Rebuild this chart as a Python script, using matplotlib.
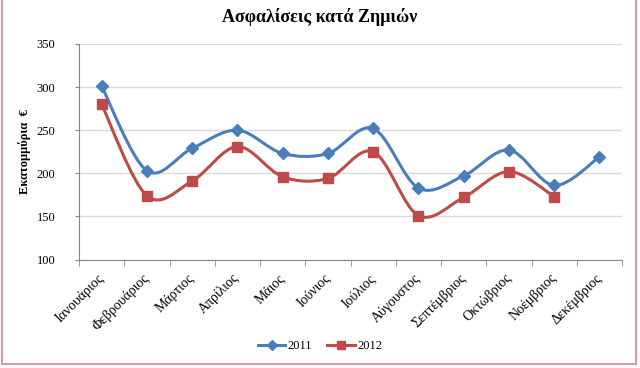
import numpy as np
import matplotlib
matplotlib.use('Agg')
import matplotlib.pyplot as plt
import matplotlib.transforms as mtransforms
from matplotlib.path import Path
from matplotlib.patches import PathPatch
from matplotlib.lines import Line2D

plt.rcParams['font.family'] = ['Liberation Serif', 'DejaVu Serif']

months = ['Ιανουάριος', 'Φεβρουάριος', 'Μάρτιος', 'Απρίλιος', 'Μάιος', 'Ιούνιος',
          'Ιούλιος', 'Αύγουστος', 'Σεπτέμβριος', 'Οκτώβριος', 'Νοέμβριος', 'Δεκέμβριος']
vals_2011 = [301, 203, 229, 250, 223, 223, 252, 183, 197, 227, 186, 219]
vals_2012 = [280, 174, 191, 231, 196, 194, 225, 151, 172, 202, 173]

blue = '#4A7EBB'
red = '#BE4B48'


def smooth_path(y):
    # Excel-style smoothed line: cubic Bezier segments (Catmull-Rom tangents)
    pts = np.column_stack([np.arange(len(y)), np.asarray(y, dtype=float)])
    verts = [pts[0]]
    codes = [Path.MOVETO]
    n = len(pts)
    for i in range(n - 1):
        p0 = pts[max(i - 1, 0)]
        p1 = pts[i]
        p2 = pts[i + 1]
        p3 = pts[min(i + 2, n - 1)]
        c1 = p1 + (p2 - p0) / 6.0
        c2 = p2 - (p3 - p1) / 6.0
        verts += [c1, c2, p2]
        codes += [Path.CURVE4] * 3
    return Path(verts, codes)


fig = plt.figure(figsize=(6.4, 3.68), dpi=100)
ax = fig.add_axes([79 / 640, 1 - 259.5 / 368, 543 / 640, 215.5 / 368])

for vals, col, mk, ms in [(vals_2011, blue, 'D', 6), (vals_2012, red, 's', 7)]:
    ax.add_patch(PathPatch(smooth_path(vals), facecolor='none', edgecolor=col,
                           lw=2.2, capstyle='round', joinstyle='round', zorder=3))
    ax.plot(range(len(vals)), vals, linestyle='none', marker=mk, ms=ms,
            color=col, zorder=4)

ax.set_xlim(-0.5, 11.5)
ax.set_ylim(100, 350)
ax.set_yticks(range(100, 351, 50))
ax.yaxis.grid(True, color='#D9D9D9', lw=1)
ax.set_axisbelow(True)
for s in ['top', 'right']:
    ax.spines[s].set_visible(False)
for s in ['left', 'bottom']:
    ax.spines[s].set_color('#868686')
ax.tick_params(axis='y', length=3, color='#868686', labelsize=9, pad=14)
ax.set_xticks(range(12))
ax.set_xticklabels(months, rotation=45, ha='right', va='center',
                   rotation_mode='anchor', fontsize=10)
shift = mtransforms.ScaledTranslation(3 / 100, 0, fig.dpi_scale_trans)
for lbl in ax.get_xticklabels():
    lbl.set_transform(lbl.get_transform() + shift)
ax.tick_params(axis='x', which='major', length=0, pad=12)
ax.set_xticks(np.arange(-0.5, 12, 1), minor=True)
ax.tick_params(axis='x', which='minor', length=4, color='#868686')

ax.set_ylabel('Εκατομμύρια  €', fontsize=9, fontweight='bold')
ax.yaxis.set_label_coords(-0.088, 0.5)

fig.text(0.5, 1 - 17 / 368, 'Ασφαλίσεις κατά Ζημιών', ha='center', va='center',
         fontsize=13, fontweight='bold')

handles = [Line2D([], [], color=blue, marker='D', ms=5, lw=2.2),
           Line2D([], [], color=red, marker='s', ms=6, lw=2.2)]
fig.legend(handles, ['2011', '2012'], loc='center', bbox_to_anchor=(0.5, 1 - 346 / 368),
           ncol=2, frameon=False, fontsize=9, handlelength=2.2, handletextpad=0.2,
           columnspacing=1.2)

# chart frame
border = '#D99AA2'
fig.add_artist(Line2D([1.5 / 640, 1.5 / 640], [1.0, 1 - 364 / 368], color=border, lw=1.5))
fig.add_artist(Line2D([636 / 640, 636 / 640], [1.0, 1 - 364 / 368], color=border, lw=1.5))
fig.add_artist(Line2D([1.5 / 640, 636 / 640], [1 - 364 / 368, 1 - 364 / 368], color=border, lw=1.5))

fig.savefig('out.png', dpi=100)
